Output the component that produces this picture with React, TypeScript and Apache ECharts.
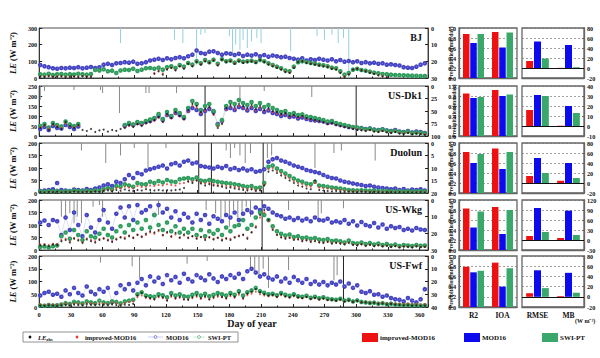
import React, { useEffect, useRef } from 'react';
import * as echarts from 'echarts';

// ---------- data (LE sampled every 4 days starting at day 1) ----------
const sites = ['BJ', 'US-Dk1', 'Duolun', 'US-Wkg', 'US-Fwf'];
const DAY0 = 1;
const STEP = 4;

const bjObs = [8,5,10,6,7,9,4,6,8,5,10,7,6, null,null,null,null,null,null,null,null,null,null,null,null,null,null, 25,40,20,50,60,45,70,55,85, 70,95,80,100,90,105,75,110,95,100, 85,100,90,95,100,90,108,95,80,70, 60,50,35,30,60,95,100,90,85,80, 75,70,65,55,50,30,5,20,50,55, 45,40,30,25,15,8,3, null,null,null,null,null,null,null,null,null];
const bjImp = [12,10,14,9,11,13,8,10,12,9,13,10,9, null,null,null,null,null,null,null,null,null,null,null,null,null,null, 30,45,28,55,62,50,72,60,88, 75,98,85,105,92,108,82,112,98,104, 90,104,95,98,102,95,110,98,85,75, 65,55,40,35,65,98,102,95,88,84, 78,74,68,60,55,35,10,25,52,58, 48,42,35,28,20,12,6, null,null,null,null,null,null,null,null,null];
const bjMod = [78,70,65,58,55, 60,58,62,60,65,58,62,66,60,64, 80,85,78,88,90,95, 92,98,85,88,95,105, 110,115,108,118,112,120,125,118,130,140, 165,150,145,158,160,150,140,148,145, 138,145,132,140,135,142,130,138,128,135, 130,125,128,120,115,110,118,105,112,108, 115,110,105,112,100,108,98,102,95,100, 90,95,88,92,85,88,80,82,78,75, 65,62,60,68,80,88];
const bjSwi = [22,20,25,18,22,24,20,23,21,25,22,20,24, 48,45,52,40,44,30,45,50,48,55,42,50,58,60, 55,62,50,65,70,60,78,68,90, 80,100,88,108,95,110,85,112,100,105, 92,105,98,100,104,96,108,100,88,78, 68,58,45,40,68,95,100,96,90,86, 80,76,70,62,58,40,20,30,50,55, 48,44,38,32,28,24,22, 20,18,17,16,15,14,13,12,12];

const dk1Obs = [40,55,30,60,45,35,70,50,40,55, 30,25,35,20,28,32,22,30,26,35, 40,55,45,60,50,65,70, 80,95,70,110,90,120,100,85,130,160, 150,120,135,145, 110,40,60,140,155, 145,160,150,140,155,135,150,130,140,125, 120,110,115,100,105,95,100,90,85,80, 75,70,60,65,55,50,45,40,35,30, 28,25,30,22,20,25,18,15,20,12, 10,15,8,12,10,6];
const dk1Imp = [45,50,38,55,50,42,62,48,45,50, null,null,null,null,null,null,null,null,null,null, 45,50,48,58,55,62,68, 75,90,72,100,88,110,98,82,120,150, 140,115,125,138, 105,50,65,130,145, 135,150,140,130,145,128,140,122,130,118, 112,105,108,95,100,90,95,85,82,75, 72,68,60,62,55,50,46,42,38,34, 32,28,30,25,22,26,20,18,22,15, 14,18,12,15,12,10];
const dk1Mod = [35,45,30,50,40,38,55,45,35,48, null,null,null,null,null,null,null,null,null,null, 50,60,55,65,60,70,75, 85,100,80,105,95,115,105,90,125,140, 130,110,125,135, 120,60,75,135,140, 130,145,140,128,140,125,135,120,128,115, 110,100,105,95,98,88,92,85,80,78, 75,72,65,68,60,55,50,45,42,38, 40,35,38,32,30,34,28,25,30,22, 20,25,18,22,20,15];
const dk1Swi = [50,60,42,65,55,48,72,58,50,60, null,null,null,null,null,null,null,null,null,null, 55,65,58,70,65,75,82, 90,110,85,120,100,130,115,95,140,175, 160,130,150,160, 125,55,80,150,170, 160,180,165,155,170,150,165,145,155,140, 130,120,125,110,115,105,108,98,95,90, 85,80,72,75,65,60,55,50,45,42, 38,34,36,30,28,32,26,22,26,20, 18,22,15,18,16,12];

const dlObs = [3,2,4,3,5,2,4,3,6,4,3,5,4,6,5, 8,10,6,12,9,14,10,8,12,10, 15,12,10,12,10,11,10,12,14,20,45,40,50,38,30, 35,30,28,25,20,22,18,15,12,10,14,8,10, 30,85,90,80,70,60,50,40,30,25, 18,15,50,12,10,8,6,8,5,4, 5,4,3,5,4,3,4,3,2,3, 3,2,3,2,3,2,2,3,2];
const dlImp = [4,3,5,4,6,3,5,4,7,5,4,6,5,7,6, 12,15,10,20,18,25,22,18,28,24, 25,30,28,32,30,35,32,30,38,40,48,45,50,42,38, 40,35,32,30,28,26,24,22,18,15,18,12,14, 35,95,100,88,78,68,58,48,40,35, 28,25,40,22,20,18,15,14,12,10, 9,8,7,8,7,6,7,6,5,6, 5,4,5,4,5,4,4,5,4];
const dlMod = [8,10,12,15,40,12,10,8,14,12,10,16,12,18,22, 30,35,28,45,40,55,72,60,80,75, 90,95,100,105,110,98,115,120,110,125,130,118,122,108,105, 102,98,105,100,108,95,100,92,98,90,95,85,88, 95,125,135,140,130,125,118,110,105,100, 92,88,84,80,72,65,60,58,50,45, 42,38,35,32,28,30,25,22,20,18, 15,18,12,16,10,14,12,15,10];
const dlSwi = [6,5,8,6,9,5,7,6,10,8,7,9,8,10,9, 15,20,14,28,25,35,30,25,40,35, 35,45,40,48,42,52,46,44,55,58,60,55,62,50,48, 52,48,45,42,40,38,35,32,28,25,28,20,22, 40,105,110,98,88,78,68,58,50,45, 38,35,45,30,28,25,22,20,18,15, 12,11,10,11,10,9,10,8,8,9, 7,6,7,6,7,6,6,7,6];

const wkgObs = [18,20,15,22,20, 35,40,30,45,38,28,42,35,30,40,45,38,32,42,50,45,55,48,60,52, 65,75,70,80,60,72,55,68,50,62, 48,55,45,52,40,50,42,48,38,45,40,50,55,60,45, 70,90,140,160,120,80,60, 50,45,48,40,42,35,38,32,35,30,28,32,25,28, 25,22,28,20,18,22,16,20,15,18,14,16,12,15,10,13,12,10,14,11,12];
const wkgImp = [22,24,20,25,24, 40,45,35,48,42,32,46,40,35,44,48,42,36,45,52,50,58,50,62,55, 60,70,65,75,58,68,52,62,48,58, 50,55,48,52,45,52,45,50,42,48,45,52,58,62,50, 72,95,130,150,115,85,62, 52,48,50,44,45,38,40,35,38,32,30,34,28,30, 28,25,30,22,20,24,18,22,17,20,16,18,14,17,12,15,14,12,16,13,14];
const wkgMod = [110,118,100,120,115, 60,130,80,150,100,55,140,90,70,120,160,110,85,145,170,130,175,120,180,150, 160,175,140,180,150,165,130,155,120,145, 130,110,145,120,140,105,135,125,115,140,130,150,120,145,160, 150,170,160,175,165,150,140, 135,125,130,120,128,118,125,115,130,120,118,125,110,115, 110,120,105,115,98,112,100,95,108,90,102,85,95,88,92,80,85,78,88,82,80];
const wkgSwi = [12,14,10,15,18, 55,70,45,80,60,40,75,55,50,65,85,60,50,75,95,70,100,80,110,85, 120,90,140,100,80,110,75,95,70,85, 70,85,60,80,55,75,65,80,60,90,75,95,100,120,85, 100,130,150,140,120,95,75, 65,58,62,52,55,48,50,45,48,42,40,44,36,38, 35,30,38,28,26,30,24,28,22,26,20,24,18,22,16,20,18,16,20,17,18];

const fwfObs = [5,4,6,5,4, 6,8,5,9,7,6,10,8,7,9, 8,6,10,7,5,9,8,12, 45,55,40,35,30,42,38,25,45,35,40,30,28,38,45,35,42,30,38,45,40,35, 48,40,55,35,52,60,70,58,50, 45,48,40,50,42,38,45, 38,35,40,32,36,30,34,28, 28,25,30,22,26,20,24,18, 18,15,16,12,14,10,12,9, 8,6,7,5,6,4,5];
const fwfImp = [10,9,11,10,9, 12,14,11,15,13,12,16,14,13,15, 14,12,18,15,10,16,20,22, 38,45,35,32,30,38,35,28,40,32,36,30,30,35,40,32,38,30,35,40,38,33, 42,36,48,32,46,52,60,50,45, 42,44,38,46,40,36,42, 36,34,38,30,34,29,32,27, 27,25,28,22,25,21,23,19, 19,17,18,15,16,14,15,13, 13,12,14,11,12,10,12];
const fwfMod = [45,55,60,48,52, 40,65,50,75,55,45,80,60,50,70, 60,75,20,55,85,70,90,65, 95,110,85,120,100,115,90,125,105,118,95,130,110,100,125,115,105,128,112,98,120,110, 125,115,130,110,140,150,135,120,128, 115,108,120,100,112,95,118, 105,95,110,90,100,88,98,85, 95,88,100,80,92,75,85,60, 55,62,48,50,40,45,35,30, 28,22,35,25,18,30,70];
const fwfSwi = [6,5,8,6,7, 10,15,12,20,18,14,22,18,15,25, 18,15,22,20,14,22,25,28, 50,58,45,42,40,50,46,38,55,45,50,42,40,48,55,45,52,42,48,55,50,45, 55,48,62,45,58,65,75,62,56, 50,52,46,55,48,44,50, 42,40,44,36,40,34,38,32, 30,28,32,25,28,22,26,20, 18,16,17,13,15,11,13,10, 9,8,9,7,8,6,7];

const obsSets = [bjObs, dk1Obs, dlObs, wkgObs, fwfObs];
const impSets = [bjImp, dk1Imp, dlImp, wkgImp, fwfImp];
const modSets = [bjMod, dk1Mod, dlMod, wkgMod, fwfMod];
const swiSets = [bjSwi, dk1Swi, dlSwi, wkgSwi, fwfSwi];

// precipitation (day, mm/day)
const bjRainDay = [77,128,136,149,153,157,180,183,186,190,193,197,201,206,210,238,263,270,277,283,288,293];
const bjRainMm = [9,7,9,22,4,3,5,16,10,13,7,12,8,6,9,14,5,7,4,9,6,30];
const dk1RainDay = [1,5,33,58,60,76,101,104,130,157,190,213,258,300];
const dk1RainMm = [28,10,8,8,14,54,14,14,14,100,34,10,22,100];
const dlRainDay = [40,63,77,90,103,120,151,163,177,181,185,190,195,200,212,216,220,261,279,286,318];
const dlRainMm = [3,8,5,2,10,2,20,20,3,6,2,5,8,4,20,6,5,10,4,3,7];
const wkgRainDay = [21,25,29,33,36,40,51,57,60,113,158,167,172,176,180,184,188,192,196,200,211,236,264,267,288];
const wkgRainMm = [10,12,8,14,10,14,4,3,10,9,6,8,14,10,16,6,12,8,4,10,30,6,12,8,5];
const fwfRainDay = [58,88,95,140,159,200,204,208,212,217,236,279,282,288];
const fwfRainMm = [5,8,17,6,4,9,12,15,10,25,11,19,15,40];
const rainDays = [bjRainDay, dk1RainDay, dlRainDay, wkgRainDay, fwfRainDay];
const rainMms = [bjRainMm, dk1RainMm, dlRainMm, wkgRainMm, fwfRainMm];

// axis ranges
const leMax = [300, 250, 200, 200, 200];
const leInterval = [100, 50, 50, 50, 50];
const rainMax = [30, 100, 20, 30, 40];
const rainInterval = [10, 25, 5, 10, 10];
const dayTicks = [0, 30, 60, 90, 120, 150, 180, 210, 240, 270, 300, 330, 360];

// statistics
const fitCats = ['R2', 'IOA'];
const errCats = ['RMSE', 'MB'];
const fitImp = [[0.88, 0.92], [0.85, 0.92], [0.82, 0.89], [0.83, 0.86], [0.79, 0.87]];
const fitMod = [[0.70, 0.61], [0.76, 0.80], [0.60, 0.48], [0.45, 0.32], [0.68, 0.40]];
const fitSwi = [[0.88, 0.91], [0.78, 0.83], [0.78, 0.82], [0.77, 0.80], [0.71, 0.76]];
const errImp = [[14, 0.3], [16, 0.3], [14, 4.5], [12, 6], [7, 1.5]];
const errMod = [[53, 46], [31, 20], [50, 40], [96, 88], [52, 47]];
const errSwi = [[19, 1.5], [30, 13], [20, 10], [24, 15], [17, 8]];
const errMin = [-20, -10, -20, -30, -20];
const errMax = [80, 40, 80, 120, 80];
const errInterval = [20, 10, 20, 30, 20];

// ---------- layout & styles ----------
const FONT = 'Liberation Serif';
const TS_LEFT = 23;
const TS_W = 405;
const TOPS = [28, 86, 143, 200, 256];
const HS = [50, 50, 50, 50, 51];
const FIT_LEFT = 459, FIT_W = 58;
const ERR_LEFT = 522, ERR_W = 62;
const C_RED = '#ee1111';
const C_BLUE = '#0b0bee';
const C_GREEN = '#3aa86a';
const C_OBS = '#111111';
const C_IMP = '#e23a30';
const C_MOD = '#4545c4';
const C_SWI = '#2e9c5c';
const rainColor = ['#96d0de', '#8a8a8a', '#8a8a8a', '#8a8a8a', '#8a8a8a'];

const pairs = (arr: (number | null)[]) => arr.map((v, i) => [DAY0 + STEP * i, v]);
const scatterPairs = (arr: (number | null)[]) => pairs(arr).filter((p) => p[1] !== null);

function buildOption() {
  const grid: any[] = [];
  const xAxis: any[] = [];
  const yAxis: any[] = [];
  const series: any[] = [];
  const graphic: any[] = [];

  for (let k = 0; k < 5; k++) {
    grid.push({ left: TS_LEFT, top: TOPS[k], width: TS_W, height: HS[k], show: true, borderColor: '#222', borderWidth: 0.8, backgroundColor: 'transparent' });
  }
  for (let k = 0; k < 5; k++) {
    grid.push({ left: FIT_LEFT, top: TOPS[k], width: FIT_W, height: HS[k], show: true, borderColor: '#666', borderWidth: 1.3 });
  }
  for (let k = 0; k < 5; k++) {
    grid.push({ left: ERR_LEFT, top: TOPS[k], width: ERR_W, height: HS[k], show: true, borderColor: '#666', borderWidth: 1.3 });
  }

  // time-series axes
  for (let k = 0; k < 5; k++) {
    xAxis.push({
      gridIndex: k, type: 'value', min: 0, max: 368, interval: 30,
      axisLine: { show: true, onZero: false, lineStyle: { color: '#222', width: 0.8 } },
      axisTick: { show: true, inside: true, length: 3, lineStyle: { color: '#222' } },
      minorTick: { show: true, splitNumber: 2, length: 1.5, lineStyle: { color: '#222' } },
      splitLine: { show: false },
      axisLabel: {
        show: k === 4, fontSize: 6.5, fontWeight: 'bold', fontFamily: FONT, color: '#111', margin: 4,
        formatter: (v: number) => (dayTicks.indexOf(v) >= 0 ? String(v) : ''),
      },
    });
  }
  for (let k = 0; k < 5; k++) {
    xAxis.push({
      gridIndex: 5 + k, type: 'category', data: fitCats,
      axisLine: { show: true, lineStyle: { color: '#666', width: 1.3 } },
      axisTick: { show: false },
      axisLabel: { show: k === 4, fontSize: 7.5, fontWeight: 'bold', fontFamily: FONT, color: '#111', margin: 4 },
    });
  }
  for (let k = 0; k < 5; k++) {
    xAxis.push({
      gridIndex: 10 + k, type: 'category', data: errCats,
      axisLine: { show: true, onZero: false, lineStyle: { color: '#666', width: 1.3 } },
      axisTick: { show: false },
      axisLabel: { show: k === 4, fontSize: 7.5, fontWeight: 'bold', fontFamily: FONT, color: '#111', margin: 4 },
    });
  }

  // y axes: 0-4 LE, 5-9 precip, 10-14 fit, 15-19 err
  for (let k = 0; k < 5; k++) {
    yAxis.push({
      gridIndex: k, type: 'value', min: 0, max: leMax[k], interval: leInterval[k],
      axisLine: { show: true, lineStyle: { color: '#222', width: 0.8 } },
      axisTick: { show: true, inside: true, length: 3, lineStyle: { color: '#222' } },
      splitLine: { show: false },
      axisLabel: { fontSize: 6.2, fontWeight: 'bold', fontFamily: FONT, color: '#111', margin: 2 },
      name: '{i|LE} (W m⁻²)', nameLocation: 'middle', nameGap: 12,
      nameTextStyle: {
        fontSize: 8.5, fontWeight: 'bold', fontFamily: FONT, color: '#111',
        rich: { i: { fontSize: 8.5, fontStyle: 'italic', fontWeight: 'bold', fontFamily: FONT, color: '#111' } },
      },
    });
  }
  for (let k = 0; k < 5; k++) {
    yAxis.push({
      gridIndex: k, type: 'value', position: 'right', inverse: true, min: 0, max: rainMax[k], interval: rainInterval[k],
      axisLine: { show: true, lineStyle: { color: '#222', width: 0.8 } },
      axisTick: { show: true, inside: true, length: 3, lineStyle: { color: '#222' } },
      splitLine: { show: false },
      axisLabel: { fontSize: 6.2, fontWeight: 'bold', fontFamily: FONT, color: '#111', margin: 3 },
      name: 'Precipitation(mm/day)', nameLocation: 'middle', nameGap: 14,
      nameTextStyle: { fontSize: 5.5, fontWeight: 'bold', fontFamily: FONT, color: '#111' },
    });
  }
  for (let k = 0; k < 5; k++) {
    yAxis.push({
      gridIndex: 5 + k, type: 'value', min: 0, max: 1, interval: 0.2,
      axisLine: { show: true, lineStyle: { color: '#666', width: 1.3 } },
      axisTick: { show: true, inside: true, length: 2, lineStyle: { color: '#666' } },
      splitLine: { show: true, lineStyle: { color: '#777', type: [2, 2], width: 0.7 } },
      axisLabel: { fontSize: 6.2, fontWeight: 'bold', fontFamily: FONT, color: '#111', margin: 3, formatter: (v: number) => v.toFixed(1) },
    });
  }
  for (let k = 0; k < 5; k++) {
    yAxis.push({
      gridIndex: 10 + k, type: 'value', position: 'right', min: errMin[k], max: errMax[k], interval: errInterval[k],
      axisLine: { show: true, lineStyle: { color: '#666', width: 1.3 } },
      axisTick: { show: true, inside: true, length: 2, lineStyle: { color: '#666' } },
      splitLine: { show: true, lineStyle: { color: '#777', type: [2, 2], width: 0.7 } },
      axisLabel: { fontSize: 6.2, fontWeight: 'bold', fontFamily: FONT, color: '#111', margin: 3 },
    });
  }

  // time-series series
  for (let k = 0; k < 5; k++) {
    series.push({
      type: 'bar', xAxisIndex: k, yAxisIndex: 5 + k, barWidth: 1, silent: true, z: 1,
      data: rainDays[k].map((d, j) => ({
        value: [d, rainMms[k][j]],
        itemStyle: { color: k > 0 && rainMms[k][j] >= rainMax[k] ? '#222' : rainColor[k] },
      })),
    });
    series.push({
      type: 'line', xAxisIndex: k, yAxisIndex: k, data: pairs(modSets[k]), z: 2,
      symbol: 'emptyCircle', symbolSize: 2.6, showSymbol: true, connectNulls: false,
      itemStyle: { color: C_MOD, borderWidth: 0.55 },
      lineStyle: { color: '#b4b9ee', width: 0.45 },
    });
    series.push({
      type: 'line', xAxisIndex: k, yAxisIndex: k, data: pairs(swiSets[k]), z: 3,
      symbol: 'emptyCircle', symbolSize: 2.6, showSymbol: true, connectNulls: false,
      itemStyle: { color: C_SWI, borderWidth: 0.55 },
      lineStyle: { color: '#b0dfc0', width: 0.45 },
    });
    series.push({
      type: 'scatter', xAxisIndex: k, yAxisIndex: k, data: scatterPairs(impSets[k]), z: 4,
      symbol: 'circle', symbolSize: 2.1, itemStyle: { color: C_IMP },
    });
    series.push({
      type: 'scatter', xAxisIndex: k, yAxisIndex: k, data: scatterPairs(obsSets[k]), z: 5,
      symbol: 'circle', symbolSize: 2, itemStyle: { color: C_OBS },
    });
  }

  // statistics bars
  for (let k = 0; k < 5; k++) {
    const fitSets = [fitImp[k], fitMod[k], fitSwi[k]];
    const errSets = [errImp[k], errMod[k], errSwi[k]];
    const cols = [C_RED, C_BLUE, C_GREEN];
    for (let s = 0; s < 3; s++) {
      series.push({
        type: 'bar', xAxisIndex: 5 + k, yAxisIndex: 10 + k, data: fitSets[s], barWidth: 6.5, barGap: '12%',
        itemStyle: { color: cols[s] }, silent: true,
      });
    }
    for (let s = 0; s < 3; s++) {
      const sr: any = {
        type: 'bar', xAxisIndex: 10 + k, yAxisIndex: 15 + k, data: errSets[s], barWidth: 7, barGap: '12%',
        itemStyle: { color: cols[s] }, silent: true,
      };
      if (s === 0) {
        sr.markLine = {
          silent: true, symbol: 'none', label: { show: false },
          lineStyle: { color: '#111', type: 'solid', width: 1 },
          data: [{ yAxis: 0 }],
        };
      }
      series.push(sr);
    }
  }

  // site labels
  for (let k = 0; k < 5; k++) {
    graphic.push({
      type: 'text', right: 600 - 422, top: TOPS[k] + 4,
      style: { text: sites[k], font: `bold 10px "${FONT}"`, fill: '#111' },
    });
  }
  graphic.push({
    type: 'text', x: 252, y: 323,
    style: { text: 'Day of year', font: `bold 10px "${FONT}"`, fill: '#111', align: 'center', verticalAlign: 'middle' },
  });
  graphic.push({
    type: 'text', x: 575, y: 321,
    style: { text: '(W m⁻²)', font: `bold 6px "${FONT}"`, fill: '#111', align: 'left', verticalAlign: 'middle' },
  });

  // bottom-left legend
  const ly = 337;
  graphic.push({ type: 'rect', shape: { x: 23, y: 332, width: 215, height: 10 }, style: { fill: 'none', stroke: '#777', lineWidth: 0.8 } });
  graphic.push({ type: 'circle', shape: { cx: 30, cy: ly, r: 1.4 }, style: { fill: C_OBS } });
  graphic.push({
    type: 'text', x: 38, y: ly,
    style: {
      text: '{i|LE}{s|obs}', verticalAlign: 'middle',
      rich: {
        i: { font: `italic bold 6.5px "${FONT}"`, fill: '#111' },
        s: { font: `bold 4.5px "${FONT}"`, fill: '#111', padding: [4, 0, 0, 0] },
      },
    },
  });
  graphic.push({ type: 'circle', shape: { cx: 77, cy: ly, r: 1.4 }, style: { fill: C_IMP } });
  graphic.push({ type: 'text', x: 85, y: ly, style: { text: 'improved-MOD16', font: `bold 6.5px "${FONT}"`, fill: '#111', verticalAlign: 'middle' } });
  graphic.push({ type: 'line', shape: { x1: 148, y1: ly, x2: 163, y2: ly }, style: { stroke: '#aab0ec', lineWidth: 0.6 } });
  graphic.push({ type: 'circle', shape: { cx: 155.5, cy: ly, r: 1.4 }, style: { fill: '#fff', stroke: C_MOD, lineWidth: 0.7 } });
  graphic.push({ type: 'text', x: 166, y: ly, style: { text: 'MOD16', font: `bold 6.5px "${FONT}"`, fill: '#111', verticalAlign: 'middle' } });
  graphic.push({ type: 'line', shape: { x1: 193, y1: ly, x2: 205, y2: ly }, style: { stroke: '#a6dab8', lineWidth: 0.6 } });
  graphic.push({ type: 'circle', shape: { cx: 199, cy: ly, r: 1.4 }, style: { fill: '#fff', stroke: C_SWI, lineWidth: 0.7 } });
  graphic.push({ type: 'text', x: 208, y: ly, style: { text: 'SWI-PT', font: `bold 6.5px "${FONT}"`, fill: '#111', verticalAlign: 'middle' } });

  // bottom-right legend
  const legItems = [
    { x: 362, label: 'improved-MOD16', color: C_RED },
    { x: 464, label: 'MOD16', color: C_BLUE },
    { x: 542, label: 'SWI-PT', color: C_GREEN },
  ];
  legItems.forEach((it) => {
    graphic.push({ type: 'rect', shape: { x: it.x, y: 333, width: 16, height: 9 }, style: { fill: it.color } });
    graphic.push({ type: 'text', x: it.x + 18, y: 337.5, style: { text: it.label, font: `bold 7px "${FONT}"`, fill: '#111', verticalAlign: 'middle' } });
  });

  return {
    animation: false,
    backgroundColor: '#ffffff',
    textStyle: { fontFamily: FONT, fontWeight: 'bold' },
    grid, xAxis, yAxis, series, graphic,
  };
}

export default function App() {
  const ref = useRef<HTMLDivElement>(null);
  useEffect(() => {
    document.body.style.margin = '0';
    if (!ref.current) return;
    const chart = echarts.init(ref.current, undefined, { renderer: 'svg' });
    chart.setOption(buildOption());
    return () => chart.dispose();
  }, []);
  return <div ref={ref} style={{ width: 600, height: 358 }} />;
}
